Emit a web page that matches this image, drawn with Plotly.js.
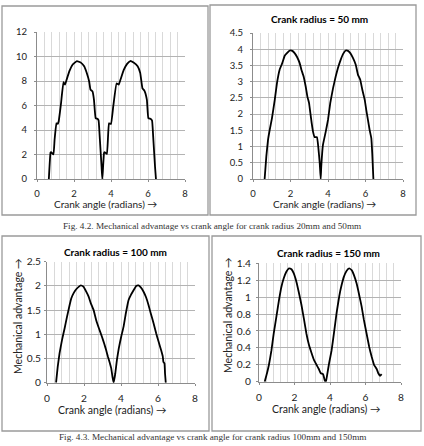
<!DOCTYPE html>
<html>
<head>
<meta charset="utf-8">
<script src="https://cdn.plot.ly/plotly-3.0.1.min.js"></script>
<style>html,body{margin:0;padding:0;background:#fff;}#chart{width:424px;height:446px;}</style>
</head>
<body>
<div id="chart"></div>
<script>
// Crank radius 20 mm
var x20 = [0.64,0.73,0.76,0.89,0.95,1.05,1.12,1.17,1.3,1.43,1.51,1.6,1.75,1.93,2.16,2.37,2.55,2.69,2.82,2.89,3.0,3.08,3.17,3.28,3.33,3.4,3.49,3.53,
           3.62,3.65,3.78,3.89,4.0,4.12,4.3,4.42,4.51,4.69,4.87,5.04,5.22,5.44,5.58,5.7,5.81,5.94,6.02,6.15,6.22,6.29,6.38,6.43];
var y20 = [0,2.15,2.2,2.0,3.2,4.55,4.5,4.7,6.2,7.9,7.7,8.1,8.8,9.35,9.63,9.5,9.2,8.65,7.96,7.3,7.15,6.46,4.96,4.9,4.77,3.2,1.0,0,
           2.1,2.2,2.05,4.55,4.5,5.9,7.8,7.7,8.1,8.9,9.4,9.63,9.5,9.2,8.65,7.4,7.2,6.46,4.96,4.9,4.77,3.2,1.0,0];
// Crank radius 50 mm
var x50 = [0.62,0.71,0.8,0.89,1.01,1.16,1.28,1.42,1.56,1.69,1.81,1.96,2.1,2.22,2.35,2.49,2.58,2.7,2.81,2.9,2.99,3.06,3.13,3.2,3.29,3.41,3.48,3.56,3.61,
           3.64,3.73,3.88,4.0,4.12,4.27,4.41,4.53,4.68,4.8,4.94,5.07,5.19,5.33,5.48,5.6,5.72,5.83,5.96,6.04,6.13,6.22,6.31,6.36,6.42];
var y50 = [0,0.69,1.2,1.51,1.87,2.44,2.96,3.37,3.57,3.8,3.88,3.96,3.95,3.88,3.76,3.57,3.37,3.16,2.85,2.54,2.34,2.03,1.72,1.46,1.29,1.29,1.0,0.48,0,
           0.38,1.05,1.46,1.82,2.34,2.8,3.16,3.42,3.68,3.85,3.96,3.95,3.88,3.73,3.52,3.21,3.06,2.75,2.44,2.13,1.82,1.51,1.26,0.79,0];
// Crank radius 100 mm
var x100 = [0.49,0.58,0.68,0.81,0.95,1.08,1.22,1.31,1.44,1.58,1.71,1.83,1.98,2.12,2.25,2.37,2.52,2.66,2.81,2.97,3.09,3.2,3.29,3.38,3.47,3.54,3.6,
            3.69,3.78,3.88,4.01,4.14,4.26,4.41,4.53,4.68,4.82,4.95,5.07,5.22,5.36,5.49,5.61,5.76,5.9,6.03,6.17,6.26,6.29,6.35,6.38,6.42];
var y100 = [0,0.33,0.61,0.88,1.12,1.36,1.6,1.74,1.85,1.93,1.98,2.01,1.98,1.88,1.78,1.64,1.5,1.29,1.12,0.95,0.81,0.67,0.54,0.43,0.3,0.12,0,
            0.19,0.47,0.71,0.95,1.16,1.43,1.71,1.81,1.91,2.0,2.01,1.97,1.88,1.76,1.6,1.43,1.23,1.02,0.85,0.67,0.54,0.43,0.4,0.19,0];
// Crank radius 150 mm
var x150 = [0.32,0.45,0.56,0.7,0.83,0.98,1.13,1.26,1.39,1.54,1.69,1.83,1.96,2.11,2.26,2.39,2.54,2.67,2.82,2.96,3.09,3.24,3.37,3.48,3.61,3.71,3.77,
            3.84,3.95,4.09,4.22,4.37,4.52,4.65,4.78,4.93,5.08,5.22,5.35,5.5,5.65,5.78,5.91,6.06,6.21,6.34,6.48,6.63,6.72,6.82,6.91];
var y150 = [0,0.1,0.2,0.37,0.57,0.77,0.97,1.12,1.22,1.3,1.34,1.33,1.28,1.18,1.04,0.91,0.73,0.57,0.43,0.34,0.26,0.2,0.15,0.1,0.09,0.01,0,
            0.08,0.22,0.37,0.57,0.81,1.01,1.14,1.24,1.31,1.34,1.32,1.26,1.16,1.02,0.89,0.73,0.57,0.41,0.3,0.2,0.15,0.1,0.07,0.09];

var panelTitles = ["", "Crank radius = 50 mm", "Crank radius = 100 mm", "Crank radius = 150 mm"];
var xTitle = "Crank angle (radians) \u2192";
var yTitle = "Mechanical advantage \u2192";
var captions = ["Fig. 4.2. Mechanical advantage vs crank angle for crank radius 20mm and 50mm",
                "Fig. 4.3. Mechanical advantage vs crank angle for crank radius 100mm and 150mm"];
var yRanges = [[0,12],[0,4.5],[0,2.5],[0,1.4]];
var yDticks = [2,0.5,0.5,0.2];

var W = 424, H = 446;
function px(x){return x/W;}
function py(y){return 1 - y/H;}

// plot areas in pixels [left,right,top,bottom]
var areas = [[37,185,32,179],[253,403,33,179],[47,195,261.7,382.7],[259,401,263.3,381.7]];
var boxes = [[2,208,6,215],[210,416,5,215],[2,209,236,431],[212,421,236,431]];
var fontFam = "Lato, 'Open Sans', sans-serif";
var tickSizes = [9.5,9.5,10.2,10.2];
var yStandoff = [5,5,1,3];

var xs = [x20,x50,x100,x150], ys = [y20,y50,y100,y150];
var data = [];
var layout = {
  width: W, height: H,
  margin: {l:0,r:0,t:0,b:0},
  paper_bgcolor: "#fff", plot_bgcolor: "#fff",
  showlegend: false,
  font: {family: fontFam, color: "#222"},
  shapes: [], annotations: []
};
for (var i=0;i<4;i++){
  var sfx = i===0 ? "" : String(i+1);
  data.push({x: xs[i], y: ys[i], type: "scatter", mode: "lines",
    line: {color: "#000", width: 1.8, shape: "spline", smoothing: 0.3},
    xaxis: "x"+sfx, yaxis: "y"+sfx, hoverinfo: "skip"});
  var a = areas[i];
  layout["xaxis"+sfx] = {
    domain: [px(a[0]), px(a[1])], anchor: "y"+sfx, range: [0,8], dtick: 2, tick0: 0,
    showgrid: true, gridcolor: "#d9d9d9", gridwidth: 1,
    minor: {dtick: 0.4, tick0: 0, showgrid: true, gridcolor: "#d9d9d9", gridwidth: 1},
    showline: true, linecolor: "#8c8c8c", linewidth: 1,
    ticks: "outside", ticklen: 2, tickcolor: "#8c8c8c", ticklabelstandoff: 4,
    tickfont: {size: tickSizes[i], color: "#222", family: fontFam},
    zeroline: false, fixedrange: true
  };
  layout["yaxis"+sfx] = {
    domain: [py(a[3]), py(a[2])], anchor: "x"+sfx, range: yRanges[i], dtick: yDticks[i], tick0: 0,
    showgrid: true, gridcolor: "#b3b3b3", gridwidth: 1,
    showline: true, linecolor: "#8c8c8c", linewidth: 1,
    ticks: "outside", ticklen: 2, tickcolor: "#8c8c8c", ticklabelstandoff: yStandoff[i],
    tickfont: {size: tickSizes[i], color: "#222", family: fontFam},
    zeroline: false, fixedrange: true
  };
  var b = boxes[i];
  layout.shapes.push({type: "rect", xref: "paper", yref: "paper",
    x0: px(b[0]), x1: px(b[1]), y0: py(b[3]), y1: py(b[2]),
    line: {color: "#9a9a9a", width: 1.3}, fillcolor: "rgba(0,0,0,0)", layer: "below"});
}
// x titles
var xtPos = [[105,204,10],[324,204,10],[112,410,10.5],[326,409,10.5]];
xtPos.forEach(function(p){
  layout.annotations.push({text: xTitle, xref: "paper", yref: "paper", x: px(p[0]), y: py(p[1]),
    xanchor: "center", yanchor: "middle", showarrow: false, font: {size: p[2], color: "#222", family: fontFam}});
});
// y titles
var ytPos = [[18,316],[228,315]];
ytPos.forEach(function(p){
  layout.annotations.push({text: yTitle, xref: "paper", yref: "paper", x: px(p[0]), y: py(p[1]),
    xanchor: "center", yanchor: "middle", textangle: -90, showarrow: false, font: {size: 10.5, color: "#222", family: fontFam}});
});
// panel titles
var ptPos = [null,[319,19.3],[115,251.7],[328,252.7]];
for (var j=1;j<4;j++){
  layout.annotations.push({text: "<b>"+panelTitles[j]+"</b>", xref: "paper", yref: "paper", x: px(ptPos[j][0]), y: py(ptPos[j][1]),
    xanchor: "center", yanchor: "middle", showarrow: false, font: {size: 10, color: "#000", family: fontFam}});
}
// captions
[[212,226],[212,436.5]].forEach(function(p,k){
  layout.annotations.push({text: captions[k], xref: "paper", yref: "paper", x: px(p[0]), y: py(p[1]),
    xanchor: "center", yanchor: "middle", showarrow: false, font: {size: 9.2, color: "#333", family: "'Liberation Serif', 'DejaVu Serif', serif"}});
});
Plotly.newPlot("chart", data, layout, {staticPlot: true, displayModeBar: false});
</script>
</body>
</html>
